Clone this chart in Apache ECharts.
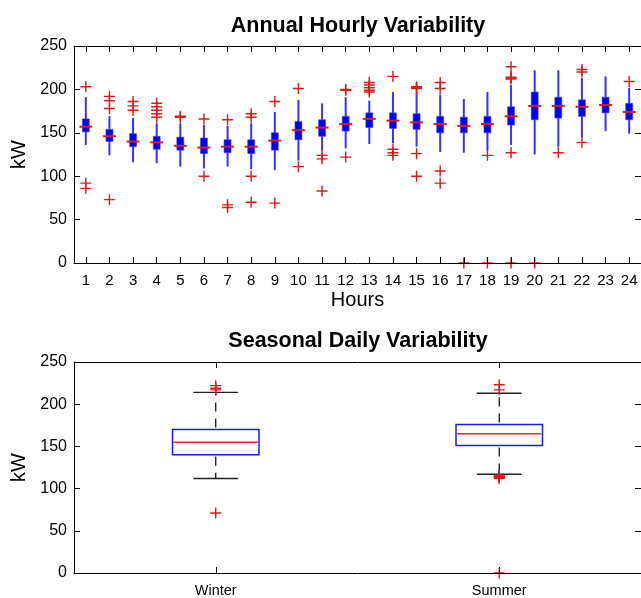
<!DOCTYPE html>
<html>
<head>
<meta charset="utf-8">
<script src="https://cdn.jsdelivr.net/npm/echarts@6/dist/echarts.min.js"></script>
<style>
html,body{margin:0;padding:0;background:#fff;}
#chart{width:641px;height:598px;}
</style>
</head>
<body>
<div id="chart"></div>
<script>
// ---- Top: Annual Hourly Variability ----
var hours = ['1','2','3','4','5','6','7','8','9','10','11','12','13','14','15','16','17','18','19','20','21','22','23','24'];
var hourLowWhisker  = [136,124,116,115,111,109,111,108,107,118,130,132,137,138,134,128,127,130,136,125,134,145,152,149];
var hourQ1          = [151,140,134,131,130,126,127,126,130,142,146,152,156,155,154,150,150,150,159,165,167,169,173,165];
var hourMedian      = [157,146,140,139,135,133,134,134,141,153,156,160,166,164,162,160,158,160,169,181,181,180,182,174];
var hourQ3          = [166,154,149,146,145,144,142,142,150,163,165,169,173,173,172,169,168,169,180,197,191,188,191,184];
var hourHighWhisker = [191,169,167,161,161,159,158,161,174,188,184,191,187,197,196,194,189,197,205,222,222,213,215,202];
var hourOutliers = [
  [203,92,86],
  [192,187,178,73],
  [186,181,176],
  [184,180,176,172,168],
  [169,168],
  [166,100],
  [165,67,64],
  [172,168,100,70],
  [186,69],
  [201,111],
  [124,120,83],
  [200,199,122],
  [208,205,202,199,197],
  [215,131,127,124],
  [203,202,201,126,100],
  [208,201,106,92],
  [0],
  [124,0],
  [226,214,213,212,127,0],
  [0],
  [127],
  [223,220,139],
  [],
  [209]
];

// ---- Bottom: Seasonal Daily Variability ----
var seasons = ['Winter','Summer'];
var seasonLowWhisker  = [112,117];
var seasonQ1          = [140,151];
var seasonMedian      = [155,165];
var seasonQ3          = [170,176];
var seasonHighWhisker = [214,213];
var seasonOutliers = [
  [222,219,217,71],
  [223,217,116,115,114,113,112,0]
];

var yTicks = {min:0, max:250, interval:50};

function boxRows(low,q1,med,q3,high){
  return low.map(function(v,i){return [i,low[i],q1[i],med[i],q3[i],high[i]];});
}
function outlierPoints(list){
  var pts=[];
  list.forEach(function(arr,i){arr.forEach(function(v){pts.push([i,v]);});});
  return pts;
}

var FONT = 'Liberation Sans, Arial, sans-serif';
var plusPath = 'path://M0,4.35H10V5.65H0Z M4.35,0H5.65V10H4.35Z';

function xBottom(grid,data,name,fs){
  return {
    type:'category', gridIndex:grid, data:data, position:'bottom', boundaryGap:true, z:5,
    axisLine:{show:true,onZero:false,lineStyle:{color:'#000',width:1}},
    axisTick:{show:true,inside:true,alignWithLabel:true,length:6,interval:0,lineStyle:{color:'#000'}},
    axisLabel:{show:true,interval:0,color:'#000',fontSize:fs,fontFamily:FONT,margin:10},
    splitLine:{show:false},
    name:name, nameLocation:'middle', nameGap:27,
    nameTextStyle:{color:'#000',fontSize:20,fontFamily:FONT}
  };
}
function xTop(grid,data){
  return {
    type:'category', gridIndex:grid, data:data, position:'top', boundaryGap:true,
    axisLine:{show:true,onZero:false,lineStyle:{color:'#000',width:1}},
    axisTick:{show:true,inside:true,alignWithLabel:true,length:6,interval:0,lineStyle:{color:'#000'}},
    axisLabel:{show:false}, splitLine:{show:false}
  };
}
function yLeft(grid){
  return {
    type:'value', gridIndex:grid, position:'left', min:yTicks.min, max:yTicks.max, interval:yTicks.interval,
    axisLine:{show:true,lineStyle:{color:'#000',width:1}},
    axisTick:{show:true,inside:true,length:6,lineStyle:{color:'#000'}},
    axisLabel:{color:'#000',fontSize:16,fontFamily:FONT,margin:7},
    splitLine:{show:false},
    name:'kW', nameLocation:'middle', nameGap:45, nameRotate:90,
    nameTextStyle:{color:'#000',fontSize:20,fontFamily:FONT}
  };
}
function yRight(grid){
  return {
    type:'value', gridIndex:grid, position:'right', min:yTicks.min, max:yTicks.max, interval:yTicks.interval,
    axisLine:{show:true,lineStyle:{color:'#000',width:1}},
    axisTick:{show:true,inside:true,length:6,lineStyle:{color:'#000'}},
    axisLabel:{show:false}, splitLine:{show:false}
  };
}

function renderCompact(params, api){
  var i = api.value(0);
  var pLow = api.coord([i, api.value(1)]);
  var pQ1 = api.coord([i, api.value(2)]);
  var pMed = api.coord([i, api.value(3)]);
  var pQ3 = api.coord([i, api.value(4)]);
  var pHigh = api.coord([i, api.value(5)]);
  var x = pLow[0];
  return {type:'group', children:[
    {type:'line', shape:{x1:x,y1:pLow[1],x2:x,y2:pHigh[1]}, style:{stroke:'#3333ff',lineWidth:2}},
    {type:'rect', shape:{x:x-3.5,y:pQ3[1],width:7,height:pQ1[1]-pQ3[1]}, style:{fill:'#0000f0',stroke:'#4a4aff',lineWidth:0.6}},
    {type:'line', shape:{x1:x-6.5,y1:pMed[1],x2:x+6.5,y2:pMed[1]}, style:{stroke:'#dd1a1a',lineWidth:2}}
  ]};
}
function renderTraditional(params, api){
  var i = api.value(0);
  var band = api.size([1,0])[0];
  var pLow = api.coord([i, api.value(1)]);
  var pQ1 = api.coord([i, api.value(2)]);
  var pMed = api.coord([i, api.value(3)]);
  var pQ3 = api.coord([i, api.value(4)]);
  var pHigh = api.coord([i, api.value(5)]);
  var x = pLow[0];
  var bw = band*0.305, cw = band*0.158;
  return {type:'group', children:[
    {type:'line', shape:{x1:x,y1:pQ3[1],x2:x,y2:pHigh[1]}, style:{stroke:'#000',lineWidth:1.2,lineDash:[9,7],lineDashOffset:-2}},
    {type:'line', shape:{x1:x,y1:pQ1[1],x2:x,y2:pLow[1]}, style:{stroke:'#000',lineWidth:1.2,lineDash:[9,7],lineDashOffset:-2}},
    {type:'line', shape:{x1:x-cw/2,y1:pHigh[1],x2:x+cw/2,y2:pHigh[1]}, style:{stroke:'#222',lineWidth:1.4}},
    {type:'line', shape:{x1:x-cw/2,y1:pLow[1],x2:x+cw/2,y2:pLow[1]}, style:{stroke:'#222',lineWidth:1.4}},
    {type:'rect', shape:{x:x-bw/2,y:pQ3[1],width:bw,height:pQ1[1]-pQ3[1]}, style:{fill:'none',stroke:'#1a1aff',lineWidth:1.5}},
    {type:'line', shape:{x1:x-bw/2+1,y1:pMed[1],x2:x+bw/2-1,y2:pMed[1]}, style:{stroke:'#e03030',lineWidth:1.5}}
  ]};
}

var option = {
  backgroundColor:'#fff',
  animation:false,
  title:[
    {text:'Annual Hourly Variability', left:358, top:15, textAlign:'center', padding:0,
     textStyle:{color:'#000',fontSize:21.5,fontWeight:'bold',fontFamily:FONT}},
    {text:'Seasonal Daily Variability', left:358, top:330, textAlign:'center', padding:0,
     textStyle:{color:'#000',fontSize:21.5,fontWeight:'bold',fontFamily:FONT}}
  ],
  grid:[
    {left:74, top:46, width:569, height:217},
    {left:74, top:362, width:569, height:216}
  ],
  xAxis:[ xBottom(0,hours,'Hours',15), xTop(0,hours), xBottom(1,seasons,'',14.5), xTop(1,seasons) ],
  yAxis:[ yLeft(0), yRight(0), yLeft(1), yRight(1) ],
  series:[
    {type:'custom', xAxisIndex:0, yAxisIndex:0, renderItem:renderCompact, clip:false,
     encode:{x:0,y:[1,2,3,4,5]}, data:boxRows(hourLowWhisker,hourQ1,hourMedian,hourQ3,hourHighWhisker), z:3},
    {type:'scatter', xAxisIndex:0, yAxisIndex:0, symbol:plusPath, symbolSize:11, clip:false,
     itemStyle:{color:'#dd1a1a',opacity:1}, data:outlierPoints(hourOutliers), z:4},
    {type:'custom', xAxisIndex:2, yAxisIndex:2, renderItem:renderTraditional, clip:false,
     encode:{x:0,y:[1,2,3,4,5]}, data:boxRows(seasonLowWhisker,seasonQ1,seasonMedian,seasonQ3,seasonHighWhisker), z:3},
    {type:'scatter', xAxisIndex:2, yAxisIndex:2, symbol:plusPath, symbolSize:11, clip:false,
     itemStyle:{color:'#dd1a1a',opacity:1}, data:outlierPoints(seasonOutliers), z:4}
  ]
};
var chart = echarts.init(document.getElementById('chart'), null, {renderer:'canvas'});
chart.setOption(option);
</script>
</body>
</html>
